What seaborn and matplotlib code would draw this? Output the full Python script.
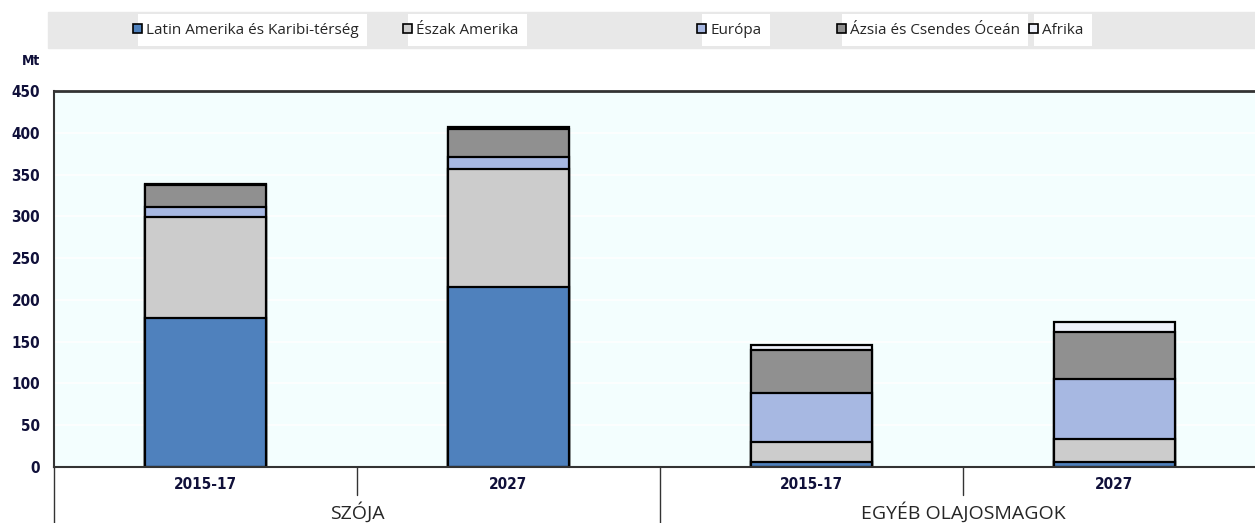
import numpy as np
import pandas as pd
import matplotlib.pyplot as plt
import matplotlib.transforms as mtransforms
from matplotlib.patches import Rectangle
import seaborn as sns

# ── adatok ─────────────────────────────────────────────
categories = ["2015-17", "2027", "2015-17", "2027"]
groups = ["SZÓJA", "EGYÉB OLAJOSMAGOK"]
series = ["Latin Amerika és Karibi-térség", "Észak Amerika", "Európa",
          "Ázsia és Csendes Óceán", "Afrika"]
latin = [178, 215, 6, 6]
north_am = [121, 142, 24, 28]
europe = [12, 14, 59, 71]
asia = [26, 34, 51, 57]
africa = [2, 2, 6, 12]
yticks = [0, 50, 100, 150, 200, 250, 300, 350, 400, 450]

colors = ["#4F81BD", "#CCCCCC", "#A7B8E2", "#909090", "#EEF1FA"]
narrow = ["DejaVu Sans"]
calib = ["Open Sans", "DejaVu Sans"]

sns.set_style("white")
plt.rcParams["font.family"] = ["DejaVu Sans"]

keys = [f"{g}|{c}" for g, c in zip([groups[0]] * 2 + [groups[1]] * 2, categories)]
layers = np.array([latin, north_am, europe, asia, africa], dtype=float)
cum = layers.cumsum(axis=0)

fig = plt.figure(figsize=(12.55, 5.23), dpi=100)
ax = fig.add_axes([54 / 1255, 56 / 523, 1212 / 1255, 376 / 523])
ax.set_facecolor("#F3FEFE")

for y in yticks[1:]:
    ax.axhline(y, color="white", lw=1.2, zorder=0)

# rétegek fentről lefelé, hogy a kisebbek rárajzolódjanak
for i in reversed(range(len(series))):
    df = pd.DataFrame({"key": keys, "val": cum[i]})
    sns.barplot(data=df, x="key", y="val", order=keys, color=colors[i],
                saturation=1, width=0.4, edgecolor="black", linewidth=1.6,
                errorbar=None, ax=ax, zorder=2)

ax.set_xlim(-0.5, 3.5)
ax.set_ylim(0, 450)
ax.set_yticks(yticks)
ax.set_yticklabels([str(t) for t in yticks], family=narrow, fontweight="bold",
                   fontsize=11, fontstretch="condensed", color="#10103a")
ax.tick_params(axis="y", direction="in", length=5, width=1, pad=10)
ax.set_xticks(range(4))
ax.set_xticklabels(categories, family=narrow, fontweight="bold", fontsize=11,
                   fontstretch="condensed", color="#10103a")
ax.tick_params(axis="x", length=0, pad=7)
ax.set_xlabel(""); ax.set_ylabel("")

for s in ["top", "left", "bottom"]:
    ax.spines[s].set_color("#333333")
ax.spines["top"].set_linewidth(2)
ax.spines["left"].set_linewidth(1.5)
ax.spines["bottom"].set_linewidth(1.5)
ax.spines["right"].set_visible(False)

# elválasztó vonalak az x tengely alatt
tr = mtransforms.blended_transform_factory(ax.transData, ax.transAxes)
for x in [0.5, 2.5]:
    ax.plot([x, x], [0, -0.075], color="#333333", lw=1, transform=tr, clip_on=False)
for x in [-0.5, 1.5]:
    ax.plot([x, x], [0, -0.16], color="#333333", lw=1, transform=tr, clip_on=False)
for x, g in zip([0.5, 2.5], groups):
    ax.text(x, -0.122, g, transform=tr, ha="center", va="center", family=calib,
            fontsize=14)

fig.text(31 / 1255, 1 - 61 / 523, "Mt", ha="center", va="center", family=narrow,
         fontweight="bold", fontsize=10, fontstretch="condensed", color="#10103a")

# jelmagyarázat sáv
fig.patches.append(Rectangle((48 / 1255, 1 - 48 / 523), 1, 36 / 523,
                             transform=fig.transFigure, color="#E8E8E8", zorder=0))
mark_x = [133, 403, 697, 837, 1029]
for mx, lab, c in zip(mark_x, series, colors):
    fig.text((mx + 13) / 1255, 1 - 30 / 523, lab, ha="left", va="center",
             family=calib, fontsize=11, zorder=3,
             bbox=dict(facecolor="white", edgecolor="none", pad=6))
    fig.patches.append(Rectangle((mx / 1255, 1 - 33 / 523), 9 / 1255, 9 / 523,
                                 transform=fig.transFigure, facecolor=c,
                                 edgecolor="black", lw=1.2, zorder=5))

fig.savefig("out.png", dpi=100)
